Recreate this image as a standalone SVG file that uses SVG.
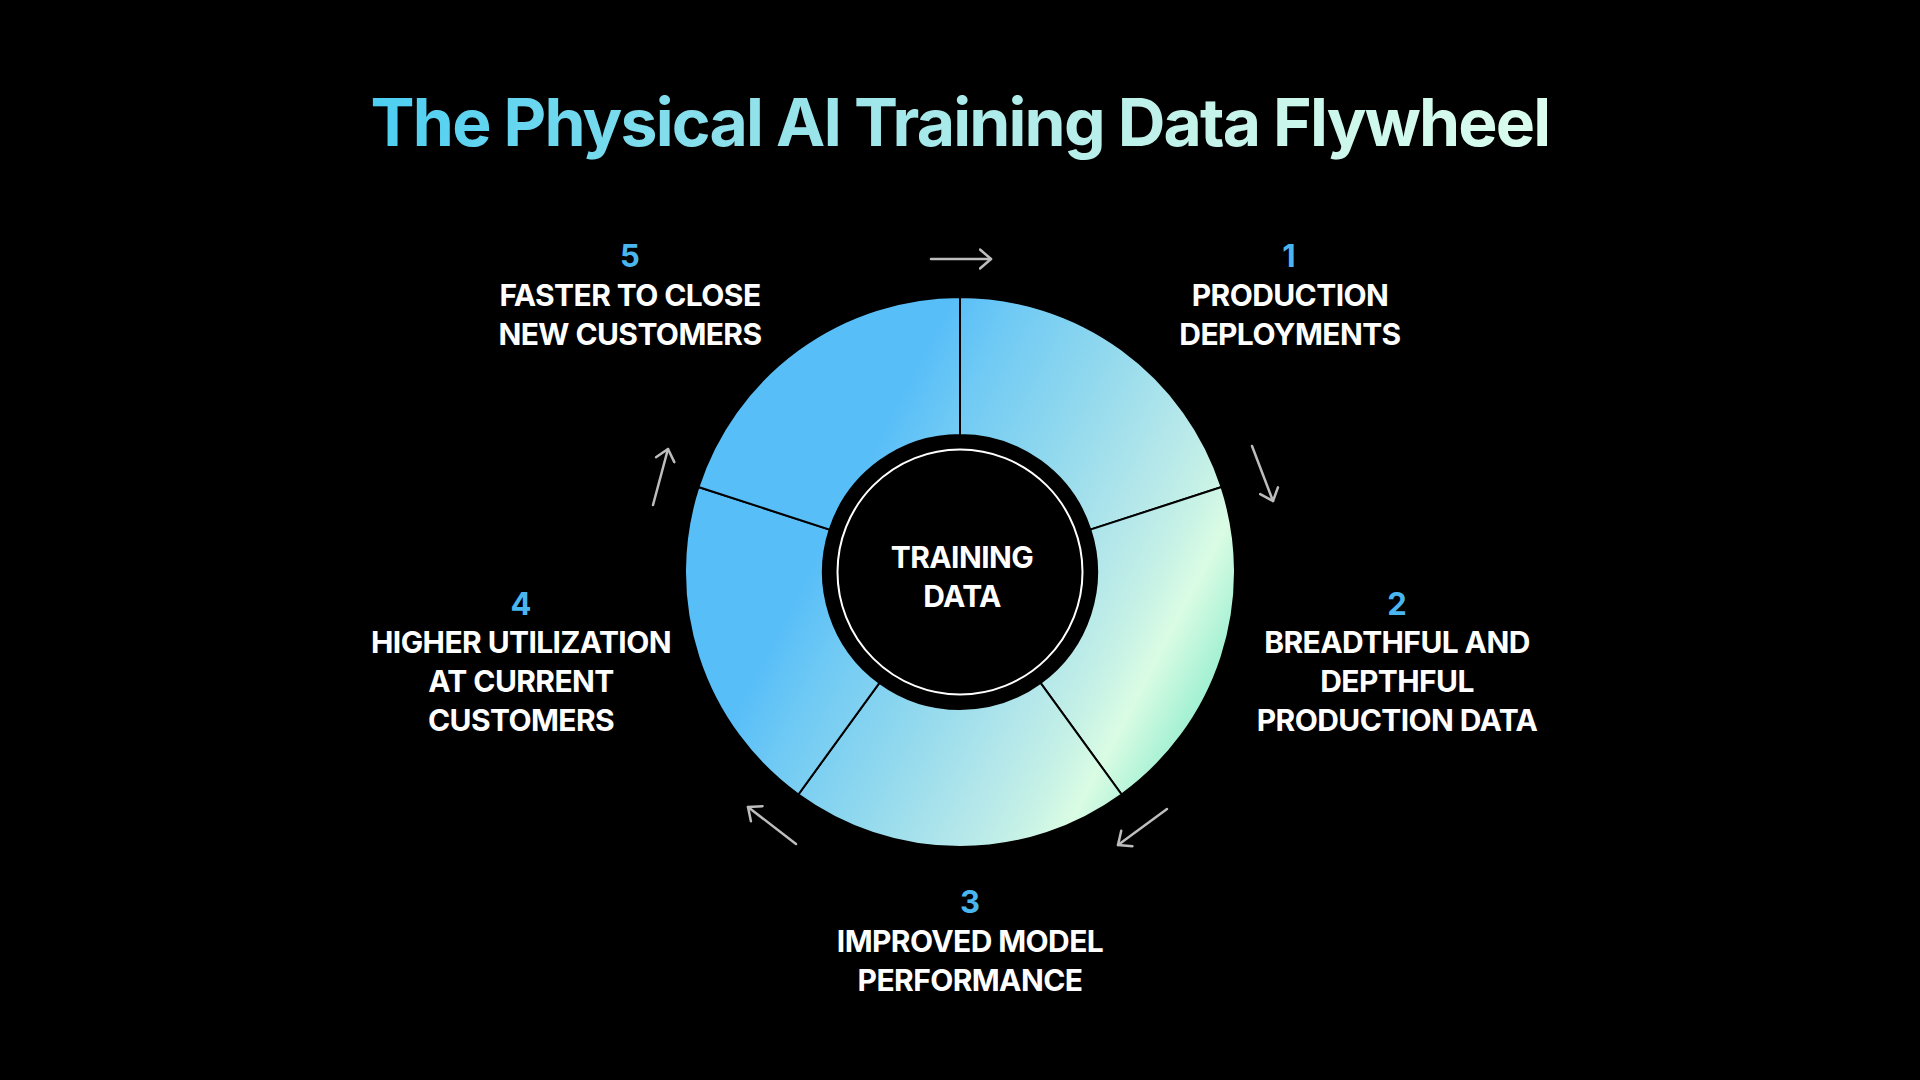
<svg xmlns="http://www.w3.org/2000/svg" width="1920" height="1080" viewBox="0 0 1920 1080">
<defs>
<linearGradient id="ringGrad" gradientUnits="userSpaceOnUse" x1="716.3" y1="444.4" x2="1203.7" y2="699.6">
<stop offset="0" stop-color="#58BEF8"/>
<stop offset="0.256" stop-color="#58BEF8"/>
<stop offset="0.367" stop-color="#70CAF4"/>
<stop offset="0.544" stop-color="#90D8EE"/>
<stop offset="0.731" stop-color="#B6E8EA"/>
<stop offset="0.807" stop-color="#C4F0E6"/>
<stop offset="0.889" stop-color="#DAFCE4"/>
<stop offset="1" stop-color="#A0F0D2"/>
</linearGradient>
<linearGradient id="titleGrad" gradientUnits="userSpaceOnUse" x1="370" y1="95" x2="1550" y2="160">
<stop offset="0" stop-color="#4CCEF2"/>
<stop offset="0.35" stop-color="#96E3EA"/>
<stop offset="0.7" stop-color="#C4F3EA"/>
<stop offset="1" stop-color="#DAFDEE"/>
</linearGradient>
<marker id="arrowHead" markerUnits="userSpaceOnUse" viewBox="0 0 14 22" refX="12.5" refY="11" markerWidth="14" markerHeight="22" orient="auto">
<path d="M1.5,1.5 L12.5,11 L1.5,20.5" fill="none" stroke="#BDBDBD" stroke-width="2.5" stroke-linecap="round" stroke-linejoin="round"/>
</marker>
<style>
.seg { fill: url(#ringGrad); stroke: #000; stroke-width: 2; }
.num { font-family: Inter, "Noto Sans", sans-serif; font-weight: 700; font-size: 31px; fill: #4AB6EF; text-anchor: middle; }
.lbl { font-family: Inter, "Noto Sans", sans-serif; font-weight: 700; font-size: 30px; fill: #FFFFFF; text-anchor: middle; letter-spacing: -0.6px; }
.arrow { fill: none; stroke: #BDBDBD; stroke-width: 2.5; stroke-linecap: round; marker-end: url(#arrowHead); }
</style>
</defs>
<rect x="0" y="0" width="1920" height="1080" fill="#000000"/>
<text x="960" y="146" text-anchor="middle" font-family="Inter, 'Noto Sans', sans-serif" font-weight="700" font-size="66" letter-spacing="-1.8" fill="url(#titleGrad)">The Physical AI Training Data Flywheel</text>

<g id="step1">
<path class="seg" d="M960,297 A275,275 0 0 1 1221.54,487.02 L1090.30,529.66 A137,137 0 0 0 960,435 Z"/>
<text class="num" x="1289" y="267">1</text>
<text class="lbl" x="1290" y="306">PRODUCTION</text>
<text class="lbl" x="1290" y="345">DEPLOYMENTS</text>
</g>
<g id="step2">
<path class="seg" d="M1221.54,487.02 A275,275 0 0 1 1121.64,794.48 L1040.53,682.84 A137,137 0 0 0 1090.30,529.66 Z"/>
<text class="num" x="1397" y="615">2</text>
<text class="lbl" x="1397" y="653">BREADTHFUL AND</text>
<text class="lbl" x="1397" y="692">DEPTHFUL</text>
<text class="lbl" x="1397" y="731">PRODUCTION DATA</text>
</g>
<g id="step3">
<path class="seg" d="M1121.64,794.48 A275,275 0 0 1 798.36,794.48 L879.47,682.84 A137,137 0 0 0 1040.53,682.84 Z"/>
<text class="num" x="970" y="913">3</text>
<text class="lbl" x="970" y="952">IMPROVED MODEL</text>
<text class="lbl" x="970" y="991">PERFORMANCE</text>
</g>
<g id="step4">
<path class="seg" d="M798.36,794.48 A275,275 0 0 1 698.46,487.02 L829.70,529.66 A137,137 0 0 0 879.47,682.84 Z"/>
<text class="num" x="521" y="615">4</text>
<text class="lbl" x="521" y="653">HIGHER UTILIZATION</text>
<text class="lbl" x="521" y="692">AT CURRENT</text>
<text class="lbl" x="521" y="731">CUSTOMERS</text>
</g>
<g id="step5">
<path class="seg" d="M698.46,487.02 A275,275 0 0 1 960,297 L960,435 A137,137 0 0 0 829.70,529.66 Z"/>
<text class="num" x="630" y="267">5</text>
<text class="lbl" x="630" y="306">FASTER TO CLOSE</text>
<text class="lbl" x="630" y="345">NEW CUSTOMERS</text>
</g>
<g id="hub">
<circle cx="960" cy="572" r="122.5" fill="#000" stroke="#FFFFFF" stroke-width="2"/>
<text class="lbl" x="962" y="568">TRAINING</text>
<text class="lbl" x="962" y="607">DATA</text>
</g>

<g id="connectors">
<path class="arrow" d="M931,259 L991,259"/>
<path class="arrow" d="M1252,446 L1273,501"/>
<path class="arrow" d="M1167,809 L1118,845"/>
<path class="arrow" d="M796,844 L748,807"/>
<path class="arrow" d="M653,505 L668,449"/>
</g>
</svg>
